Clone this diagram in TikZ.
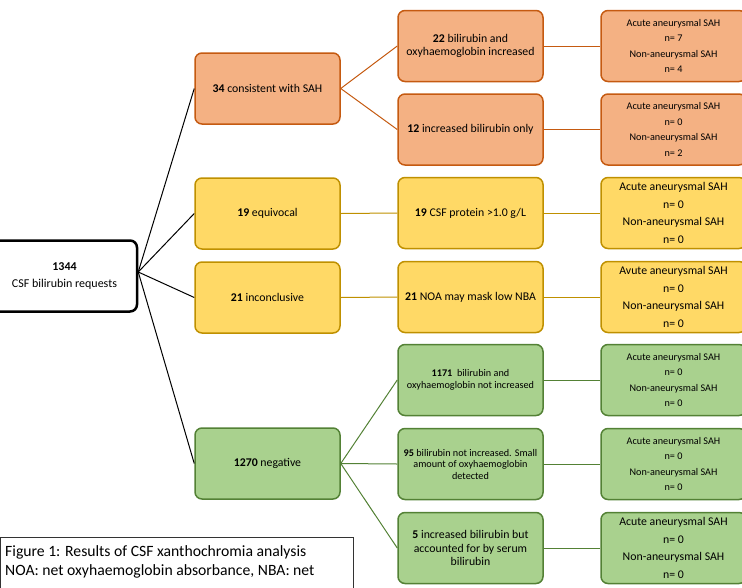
\documentclass[tikz,border=0pt]{standalone}
\usepackage{fontspec}
\setmainfont{Carlito}
\definecolor{ofill}{HTML}{F4B183}
\definecolor{oline}{HTML}{C55A11}
\definecolor{yfill}{HTML}{FFD966}
\definecolor{yline}{HTML}{BF9000}
\definecolor{gfill}{HTML}{A9D18E}
\definecolor{gline}{HTML}{538135}
\tikzset{
  box/.style={rounded corners=7pt, minimum width=145pt, minimum height=71pt, align=center, line width=1.5pt, inner sep=0pt},
  obox/.style={box, draw=oline, fill=ofill},
  ybox/.style={box, draw=yline, fill=yfill},
  gbox/.style={box, draw=gline, fill=gfill},
  bigtxt/.style={font=\fontsize{11.8}{13.3}\selectfont},
  smtxt/.style={font=\fontsize{10.2}{11.5}\selectfont},
  res/.style={font=\fontsize{10.2}{15.5}\selectfont},
  resbig/.style={font=\fontsize{11.8}{17.7}\selectfont},
  blk/.style={draw=black, line width=1pt},
  ocon/.style={draw=oline, line width=1pt},
  ycon/.style={draw=yline, line width=1pt},
  gcon/.style={draw=gline, line width=1pt},
}
\begin{document}
\begin{tikzpicture}[x=1pt,y=-1pt]
\useasboundingbox (0,0) rectangle (742,587);
% root
\node[box, draw=black, fill=white, line width=2.5pt, font=\fontsize{12}{17.6}\selectfont] (root) at (64.5,276) {\textbf{1344}\\CSF bilirubin requests};
% level 1
\node[obox, bigtxt] (a) at (267.5,88.5) {\textbf{34} consistent with SAH};
\node[ybox, bigtxt] (b) at (267.5,213.5) {\textbf{19} equivocal};
\node[ybox, bigtxt] (c) at (267.5,297.5) {\textbf{21} inconclusive};
\node[gbox, bigtxt] (d) at (267.5,463.5) {\textbf{1270} negative};
% level 2
\node[obox, bigtxt] (a1) at (470.5,46) {\textbf{22} bilirubin and\\oxyhaemoglobin increased};
\node[obox, bigtxt] (a2) at (470.5,129.5) {\textbf{12} increased bilirubin only};
\node[ybox, bigtxt] (b1) at (470.5,213) {\textbf{19} CSF protein {>}1.0 g/L};
\node[ybox, bigtxt] (c1) at (470.5,297) {\textbf{21} NOA may mask low NBA};
\node[gbox, smtxt] (d1) at (470.5,380) {\textbf{1171}~ bilirubin and\\oxyhaemoglobin not increased};
\node[gbox, smtxt] (d2) at (470.5,464) {\textbf{95} bilirubin not increased. Small\\amount of oxyhaemoglobin\\detected};
\node[gbox, bigtxt] (d3) at (470.5,548) {\textbf{5} increased bilirubin but\\accounted for by serum\\bilirubin};
% level 3
\node[obox, res] (a1r) at (673.5,46) {Acute aneurysmal SAH\\n= 7\\Non-aneurysmal SAH\\n= 4};
\node[obox, res] (a2r) at (673.5,129.5) {Acute aneurysmal SAH\\n= 0\\Non-aneurysmal SAH\\n= 2};
\node[ybox, resbig] (b1r) at (673.5,213) {Acute aneurysmal SAH\\n= 0\\Non-aneurysmal SAH\\n= 0};
\node[ybox, resbig] (c1r) at (673.5,297) {Avute aneurysmal SAH\\n= 0\\Non-aneurysmal SAH\\n= 0};
\node[gbox, res] (d1r) at (673.5,380) {Acute aneurysmal SAH\\n= 0\\Non-aneurysmal SAH\\n= 0};
\node[gbox, res] (d2r) at (673.5,464) {Acute aneurysmal SAH\\n= 0\\Non-aneurysmal SAH\\n= 0};
\node[gbox, resbig] (d3r) at (673.5,548) {Acute aneurysmal SAH\\n= 0\\Non-aneurysmal SAH\\n= 0};
% connectors
\coordinate (rj) at ([yshift=4pt]root.east);
\draw[blk] (rj) -- (a.west);
\draw[blk] (rj) -- (b.west);
\draw[blk] (rj) -- (c.west);
\draw[blk] (rj) -- (d.west);
\draw[ocon] (a.east) -- (a1.west);
\draw[ocon] (a.east) -- (a2.west);
\draw[ycon] (b.east) -- (b1.west);
\draw[ycon] (c.east) -- (c1.west);
\draw[gcon] (d.east) -- (d1.west);
\draw[gcon] (d.east) -- (d2.west);
\draw[gcon] (d.east) -- (d3.west);
\draw[ocon] (a1.east) -- (a1r.west);
\draw[ocon] (a2.east) -- (a2r.west);
\draw[ycon] (b1.east) -- (b1r.west);
\draw[ycon] (c1.east) -- (c1r.west);
\draw[gcon] (d1.east) -- (d1r.west);
\draw[gcon] (d2.east) -- (d2r.west);
\draw[gcon] (d3.east) -- (d3r.west);
% caption
\node[draw=black!80, fill=white, line width=0.6pt, minimum width=352pt, minimum height=70pt, anchor=north west, inner sep=0pt] (cap) at (0.5,537) {};
\node[anchor=base west, align=left, font=\fontsize{15.7}{19}\selectfont, inner sep=0pt] (captxt) at (5,575.7) {Figure 1: Results of CSF xanthochromia analysis\\NOA: net oxyhaemoglobin absorbance, NBA: net};
\end{tikzpicture}
\end{document}
